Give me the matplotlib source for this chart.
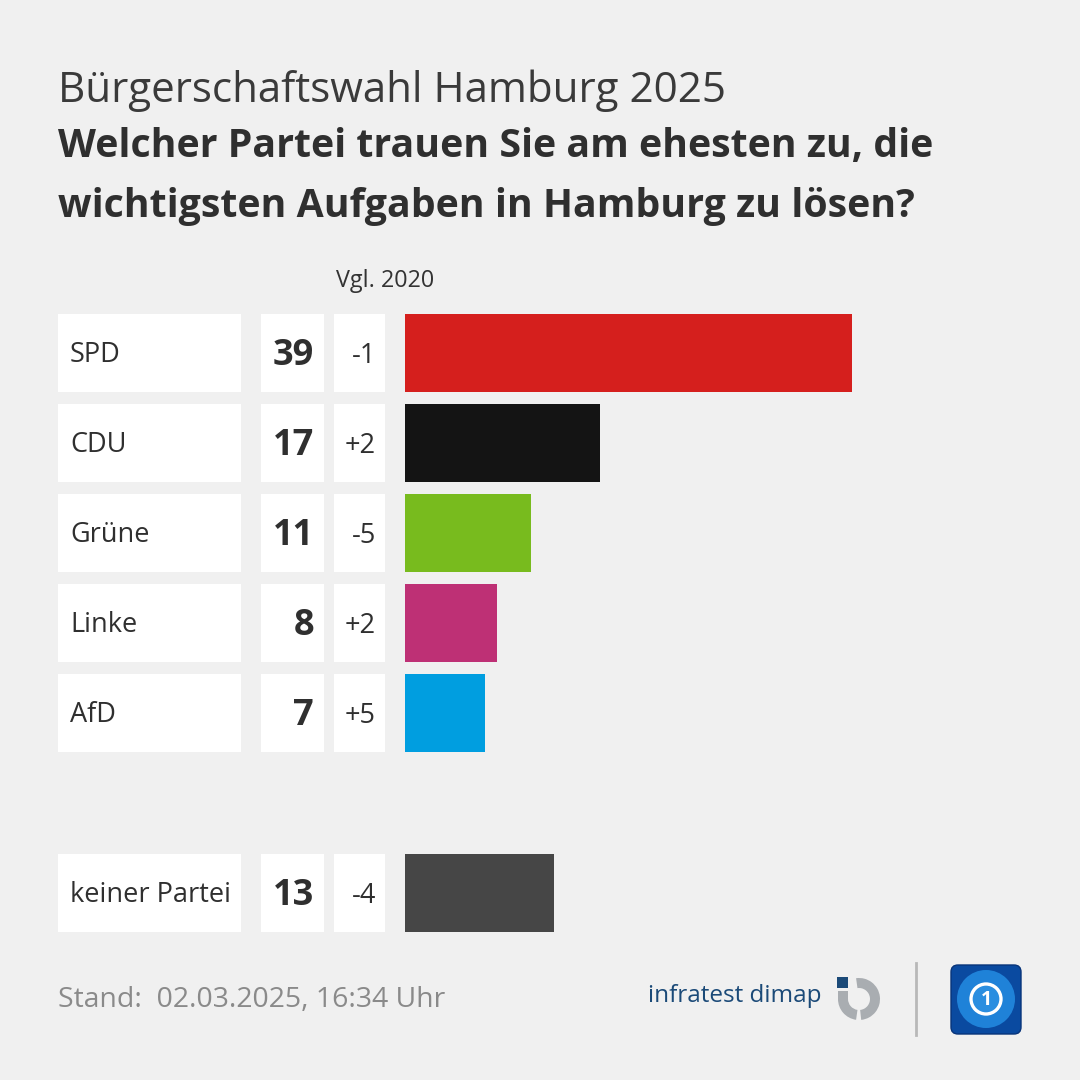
import matplotlib
matplotlib.use('Agg')
from matplotlib import pyplot as plt
from matplotlib import transforms
from matplotlib.patches import Rectangle, FancyBboxPatch, Circle, Wedge

# data
parties = ['SPD', 'CDU', 'Grüne', 'Linke', 'AfD', 'keiner Partei']
values = [39, 17, 11, 8, 7, 13]
changes = ['-1', '+2', '-5', '+2', '+5', '-4']
colors = ['#d51f1d', '#141414', '#78bb1e', '#be3075', '#009ee0', '#464646']
slots = [0, 1, 2, 3, 4, 6]

BG = '#f0f0f0'
TXT = '#2f2f2f'

plt.rcParams['font.family'] = ['Open Sans', 'DejaVu Sans']

fig = plt.figure(figsize=(10.8, 10.8), dpi=100, facecolor=BG)
W = H = 1080.0

def fx(px):
    return px / W

def fy(py):
    return 1 - py / H

# titles
fig.text(fx(58), fy(91), 'Bürgerschaftswahl Hamburg 2025', fontsize=30.3,
         color='#3a3a3a', va='center', ha='left')
fig.text(fx(58), fy(147), 'Welcher Partei trauen Sie am ehesten zu, die',
         fontsize=28.3, fontweight='bold', color=TXT, va='center', ha='left')
fig.text(fx(58), fy(207), 'wichtigsten Aufgaben in Hamburg zu lösen?',
         fontsize=28.3, fontweight='bold', color=TXT, va='center', ha='left')
fig.text(fx(385), fy(281), 'Vgl. 2020', fontsize=16.8, color='#333333',
         va='center', ha='center')

# bar axes: rows are 90px apart, starting at y=308
scale = 447 / 39.0
ax = fig.add_axes([fx(405), fy(938), (W - 405) / W, 630 / H])
ax.set_facecolor('none')
ax.barh(slots, values, height=78 / 90, color=colors, left=0)
ax.set_xlim(0, (W - 405) / scale)
ax.set_ylim(6.5, -0.5)
ax.axis('off')

trans = transforms.blended_transform_factory(fig.transFigure, ax.transData)
hh = 78 / 90
for s, p, v, c in zip(slots, parties, values, changes):
    for x0, x1 in [(58, 241), (261, 324), (334, 385)]:
        ax.add_patch(Rectangle((fx(x0), s - hh / 2), fx(x1) - fx(x0), hh,
                               transform=trans, facecolor='white',
                               edgecolor='none', clip_on=False))
    ax.text(fx(70), s + 0.02, p, transform=trans, fontsize=19.5, color=TXT,
            va='center', ha='left')
    ax.text(fx(314), s + 0.03, str(v), transform=trans, fontsize=26,
            fontweight='bold', color=TXT, va='center', ha='right')
    ax.text(fx(376), s + 0.03, c, transform=trans, fontsize=19.5, color=TXT,
            va='center', ha='right')

# footer
fig.text(fx(58), fy(1000), 'Stand:  02.03.2025, 16:34 Uhr', fontsize=20.4,
         color='#8a8a8a', va='center', ha='left')
fig.text(fx(822), fy(996), 'infratest dimap', fontsize=17.5, color='#1b4a78',
         va='center', ha='right')

lax = fig.add_axes([0, 0, 1, 1])
lax.set_xlim(0, W)
lax.set_ylim(H, 0)
lax.axis('off')
lax.set_facecolor('none')

# infratest icon
lax.add_patch(Rectangle((837, 977), 11, 11, facecolor='#1b4a78'))
lax.add_patch(Wedge((859, 999), 21, 262, 84, width=10, facecolor='#a9adb1'))
lax.add_patch(Wedge((859, 999), 21, 98, 180, width=10, facecolor='#a9adb1'))
lax.add_patch(Rectangle((838, 991), 10, 9, facecolor='#a9adb1'))

# separator
lax.plot([916, 916], [963, 1035], color='#b8b8b8', lw=2)

# tagesschau logo
lax.add_patch(FancyBboxPatch((951, 965), 70, 69,
                             boxstyle='round,pad=0,rounding_size=7',
                             facecolor='#0a4aa0', edgecolor='#08347a'))
lax.add_patch(Circle((986, 999), 29, facecolor='#1f82d8', edgecolor='none'))
lax.add_patch(Circle((986, 999), 15, facecolor='#2a8ee0', edgecolor='white',
                     lw=2.4))
lax.text(986, 1000, '1', fontsize=14, fontweight='bold', color='white',
         ha='center', va='center')

fig.savefig('out.png', dpi=100, facecolor=BG)
